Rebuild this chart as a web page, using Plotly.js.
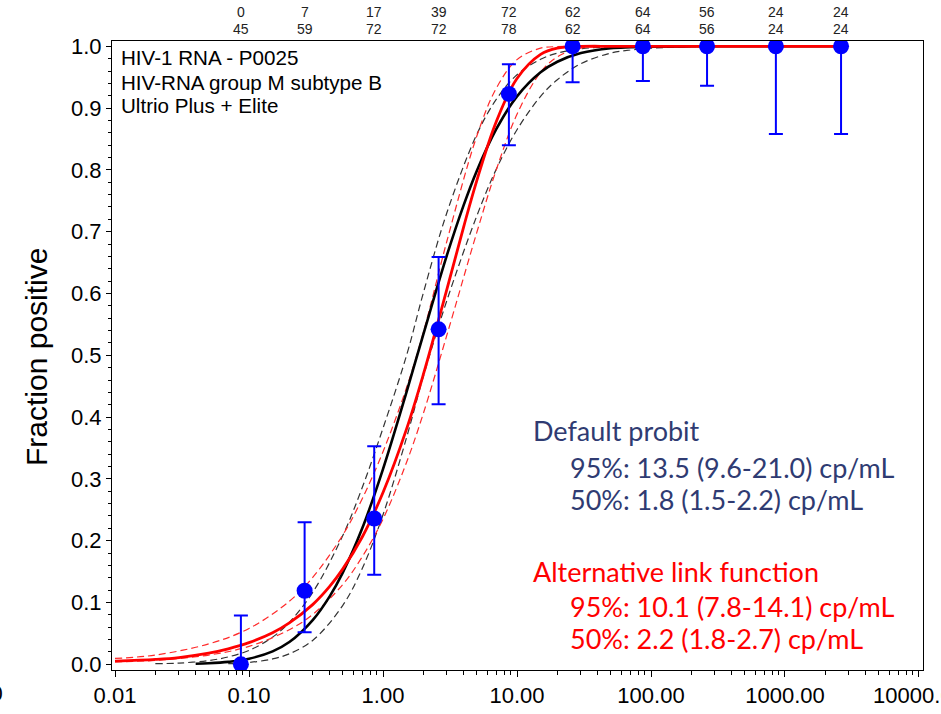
<!DOCTYPE html>
<html>
<head>
<meta charset="utf-8">
<script src="https://cdn.plot.ly/plotly-3.0.1.min.js"></script>
<style>html,body{margin:0;padding:0;background:#fff;}#chart{width:941px;height:714px;}</style>
</head>
<body>
<div id="chart"></div>
<script>
// Observed data (concentration cp/mL, fraction positive, 95% CI)
const conc = [0.087, 0.26, 0.86, 2.6, 8.7, 26, 87, 262, 855, 2620];
const positives = [0, 7, 17, 39, 72, 62, 64, 56, 24, 24];
const totals = [45, 59, 72, 72, 78, 62, 64, 56, 24, 24];
const fraction = [0, 0.119, 0.236, 0.542, 0.923, 1, 1, 1, 1, 1];
const ciUpper = [0.079, 0.230, 0.353, 0.659, 0.971, 1, 1, 1, 1, 1];
const ciLower = [0, 0.052, 0.145, 0.421, 0.840, 0.942, 0.944, 0.936, 0.858, 0.858];

// Default probit fit (black)
const probitX = [0.04, 0.05, 0.07, 0.1, 0.15, 0.2, 0.3, 0.4, 0.5, 0.7, 1, 1.5, 2, 3, 4, 5, 7, 10, 15, 20, 30, 50, 70, 100, 200, 500, 1000, 2620];
const probitY = [0.001, 0.0017, 0.004, 0.009, 0.021, 0.036, 0.072, 0.110, 0.148, 0.220, 0.316, 0.441, 0.534, 0.662, 0.743, 0.798, 0.866, 0.919, 0.958, 0.975, 0.989, 0.997, 0.9986, 0.9995, 1, 1, 1, 1];
const probitUpX = [0.02, 0.03, 0.05, 0.07, 0.1, 0.15, 0.2, 0.3, 0.5, 0.7, 1, 1.5, 2, 3, 5, 7, 10, 15, 20, 30, 50, 100, 1000, 2620];
const probitUpY = [0.001, 0.002, 0.006, 0.012, 0.0225, 0.044, 0.068, 0.117, 0.208, 0.286, 0.382, 0.500, 0.601, 0.731, 0.857, 0.914, 0.954, 0.979, 0.989, 0.996, 0.999, 1, 1, 1];
const probitLoX = [0.07, 0.1, 0.15, 0.2, 0.3, 0.5, 0.7, 1, 1.5, 2, 3, 5, 7, 10, 15, 20, 30, 50, 70, 100, 200, 500, 1000, 2620];
const probitLoY = [0.001, 0.003, 0.0087, 0.017, 0.039, 0.095, 0.155, 0.242, 0.367, 0.466, 0.589, 0.725, 0.801, 0.865, 0.919, 0.946, 0.972, 0.989, 0.994, 0.997, 0.9995, 1, 1, 1];

// Alternative link function fit (red)
const altX = [0.01, 0.02, 0.03, 0.05, 0.07, 0.1, 0.15, 0.2, 0.3, 0.4, 0.5, 0.7, 1, 1.5, 2, 3, 4, 5, 7, 10, 15, 20, 30, 50, 100, 1000, 2620];
const altY = [0.005, 0.008, 0.011, 0.018, 0.025, 0.035, 0.051, 0.067, 0.097, 0.126, 0.154, 0.206, 0.278, 0.381, 0.469, 0.607, 0.708, 0.782, 0.878, 0.948, 0.987, 0.997, 0.9998, 1, 1, 1, 1];
const altUpX = [0.01, 0.02, 0.05, 0.1, 0.2, 0.3, 0.5, 0.7, 1, 1.5, 2, 3, 5, 7, 10, 15, 20, 30, 100, 1000, 2620];
const altUpY = [0.0095, 0.015, 0.033, 0.058, 0.102, 0.141, 0.209, 0.268, 0.344, 0.448, 0.537, 0.685, 0.854, 0.932, 0.9785, 0.997, 0.9995, 1, 1, 1, 1];
const altLoX = [0.01, 0.02, 0.05, 0.1, 0.2, 0.3, 0.5, 0.7, 1, 1.5, 2, 3, 5, 7, 10, 15, 20, 30, 50, 100, 1000, 2620];
const altLoY = [0.004, 0.0064, 0.015, 0.029, 0.056, 0.081, 0.129, 0.174, 0.235, 0.327, 0.406, 0.533, 0.698, 0.800, 0.890, 0.958, 0.983, 0.997, 0.9999, 1, 1, 1];

// Text
const infoLines = ["HIV-1 RNA - P0025", "HIV-RNA group M subtype B", "Ultrio Plus + Elite"];
const probitTitle = "Default probit";
const probitLines = ["95%: 13.5 (9.6-21.0) cp/mL", "50%: 1.8 (1.5-2.2) cp/mL"];
const altTitle = "Alternative link function";
const altLines = ["95%: 10.1 (7.8-14.1) cp/mL", "50%: 2.2 (1.8-2.7) cp/mL"];
const yTitle = "Fraction positive";

const ARIAL = "Liberation Sans, Arial, sans-serif";
const NAVY = "#2F3B72";

const traces = [
  {x: probitUpX, y: probitUpY, mode: "lines", line: {color: "#333333", width: 1.2, dash: "7px,4px", shape: "spline"}},
  {x: probitLoX, y: probitLoY, mode: "lines", line: {color: "#333333", width: 1.2, dash: "7px,4px", shape: "spline"}},
  {x: altUpX, y: altUpY, mode: "lines", line: {color: "#ff2a2a", width: 1.2, dash: "7px,4px", shape: "spline"}},
  {x: altLoX, y: altLoY, mode: "lines", line: {color: "#ff2a2a", width: 1.2, dash: "7px,4px", shape: "spline"}},
  {x: probitX, y: probitY, mode: "lines", line: {color: "#000000", width: 2.6, shape: "spline"}},
  {x: altX, y: altY, mode: "lines", line: {color: "#ff0000", width: 2.8, shape: "spline"}},
  {x: conc, y: fraction, mode: "markers",
   marker: {color: "#0000ff", size: 16},
   error_y: {type: "data", symmetric: false,
     array: ciUpper.map((u, i) => u - fraction[i]),
     arrayminus: ciLower.map((l, i) => fraction[i] - l),
     color: "#0000ff", thickness: 2, width: 7}}
];

const W = 811, H = 629, L = 112, T = 41;
const px = v => (v - L) / W;
const py = v => 1 - (v - T) / H;

const annotations = [];
conc.forEach((c, i) => {
  annotations.push({x: Math.log10(c), xref: "x", y: py(12), yref: "paper", text: String(positives[i]),
    showarrow: false, xanchor: "center", yanchor: "middle", font: {family: ARIAL, size: 14, color: "#222"}});
  annotations.push({x: Math.log10(c), xref: "x", y: py(29), yref: "paper", text: String(totals[i]),
    showarrow: false, xanchor: "center", yanchor: "middle", font: {family: ARIAL, size: 14, color: "#222"}});
});
const infoY = [58, 82, 105];
infoLines.forEach((t, i) => annotations.push({x: px(119), xref: "paper", y: py(infoY[i]), yref: "paper", text: t,
  showarrow: false, xanchor: "left", yanchor: "middle", font: {family: ARIAL, size: 20.6, color: "#000"}}));

const SANS = "Lato, Noto Sans, sans-serif";
const FS = 27;
annotations.push({x: px(531), xref: "paper", y: py(430), yref: "paper", text: probitTitle, showarrow: false,
  xanchor: "left", yanchor: "middle", font: {family: SANS, size: FS, color: NAVY}});
[467, 499].forEach((yy, i) => annotations.push({x: px(568), xref: "paper", y: py(yy), yref: "paper", text: probitLines[i],
  showarrow: false, xanchor: "left", yanchor: "middle", font: {family: SANS, size: FS, color: NAVY}}));
annotations.push({x: px(531), xref: "paper", y: py(571), yref: "paper", text: altTitle, showarrow: false,
  xanchor: "left", yanchor: "middle", font: {family: SANS, size: FS, color: "#ff0000"}});
[606, 638].forEach((yy, i) => annotations.push({x: px(568), xref: "paper", y: py(yy), yref: "paper", text: altLines[i],
  showarrow: false, xanchor: "left", yanchor: "middle", font: {family: SANS, size: FS, color: "#ff0000"}}));

annotations.push({x: px(37), xref: "paper", y: py(357), yref: "paper", text: yTitle, textangle: -90, showarrow: false,
  xanchor: "center", yanchor: "middle", font: {family: ARIAL, size: 30, color: "#000"}});
// clipped tick label at the far left (0.001)
annotations.push({x: px(-19), xref: "paper", y: py(693), yref: "paper", text: "0.00", showarrow: false,
  xanchor: "center", yanchor: "middle", font: {family: ARIAL, size: 22, color: "#000"}});

const layout = {
  width: 941, height: 714,
  margin: {l: L, r: 18, t: T, b: 44, pad: 0},
  paper_bgcolor: "#fff", plot_bgcolor: "#fff",
  showlegend: false,
  xaxis: {type: "log", range: [-2.0224, 4.0299], dtick: 1, tickformat: ".2f",
    ticks: "outside", ticklen: 6, tickwidth: 1, tickcolor: "#000",
    ticklabeloverflow: "allow",
    showline: true, linecolor: "#000", linewidth: 1, mirror: true,
    showgrid: false, zeroline: false,
    tickfont: {family: ARIAL, size: 22, color: "#000"},
    minor: {ticks: "outside", ticklen: 4, tickcolor: "#000", dtick: "D1", showgrid: false}},
  yaxis: {range: [-0.0092, 1.0086], dtick: 0.1, tick0: 0, tickformat: ".1f",
    ticks: "outside", ticklen: 5, tickwidth: 1, tickcolor: "#000",
    showline: true, linecolor: "#000", linewidth: 1, mirror: true,
    showgrid: false, zeroline: false,
    tickfont: {family: ARIAL, size: 22, color: "#000"},
    minor: {ticks: "outside", ticklen: 3, tickcolor: "#000", dtick: 0.02, showgrid: false}},
  annotations: annotations
};

Plotly.newPlot("chart", traces, layout, {displayModeBar: false, staticPlot: true});
</script>
</body>
</html>
